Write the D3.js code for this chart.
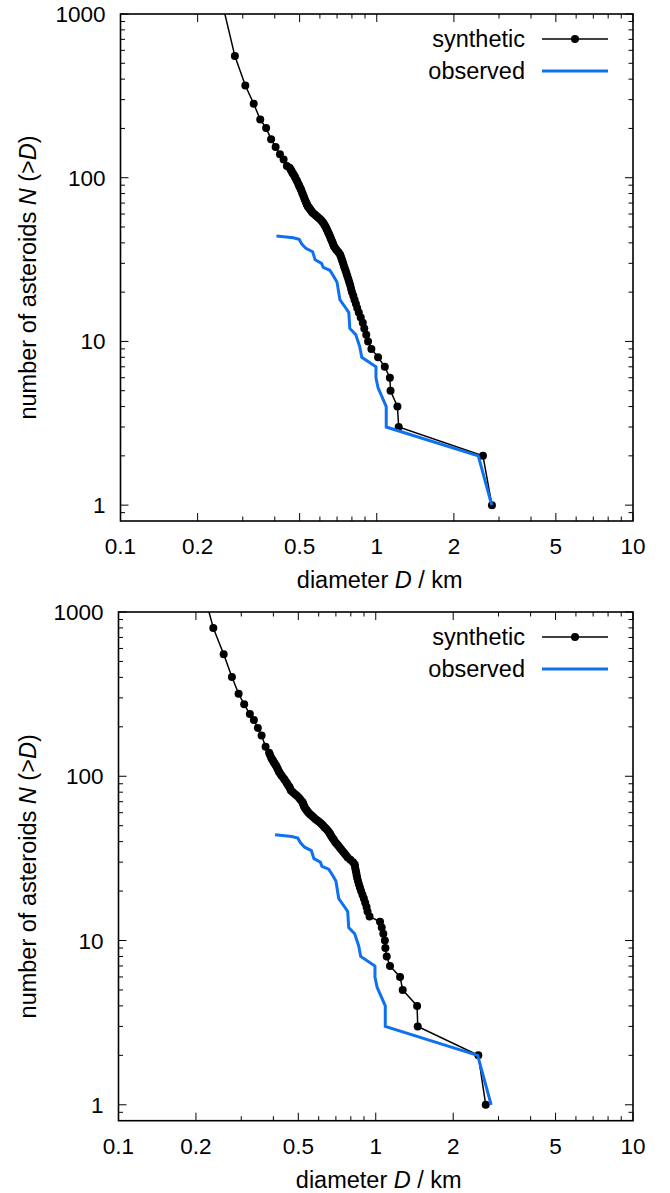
<!DOCTYPE html>
<html><head><meta charset="utf-8">
<script src="https://cdn.jsdelivr.net/npm/d3@7"></script>
<style>html,body{margin:0;padding:0;background:#fff;} svg{display:block;}</style>
</head><body>
<svg id="chart" width="670" height="1193"></svg>
<script>
// ---- axis ticks ----
const xTickValues = [0.1, 0.2, 0.5, 1, 2, 5, 10];
const xTickLabels = ["0.1", "0.2", "0.5", "1", "2", "5", "10"];
const xMinorTicks = [0.3, 0.4, 0.6, 0.7, 0.8, 0.9, 3, 4, 6, 7, 8, 9];
const yTickValues = [1, 10, 100, 1000];
const yTickLabels = ["1", "10", "100", "1000"];
const yMinorTicks = [0.9, 2, 3, 4, 5, 6, 7, 8, 9, 20, 30, 40, 50, 60, 70, 80, 90, 200, 300, 400, 500, 600, 700, 800, 900];
const seriesNames = ["synthetic", "observed"];

// ---- top panel: synthetic (cumulative N(>D) vs D) ----
const synthTopN = [1,2,3,4,5,6,7,8,9,10,11,12,13,14,15,16,17,18,19,20,21,22,23,24,25,26,27,28,29,30,31,32,33,34,35,36,37,38,39,40,41,42,43,44,45,46,47,48,49,50,51,52,53,54,55,56,57,58,59,60,61,62,63,64,65,66,67,68,69,70,72,74,76,78,80,82,84,86,88,90,92,95,97,100,102,105,107,110,112,115,118,129,139,154,172,201,227,283,366,553,1100];
const synthTopD = [2.815,2.597,1.218,1.204,1.132,1.125,1.075,1.012,0.953,0.925,0.910,0.894,0.882,0.866,0.851,0.839,0.829,0.819,0.810,0.801,0.794,0.788,0.781,0.775,0.768,0.762,0.756,0.750,0.744,0.739,0.734,0.729,0.724,0.719,0.709,0.698,0.690,0.681,0.677,0.673,0.668,0.664,0.660,0.656,0.652,0.648,0.644,0.640,0.636,0.632,0.627,0.623,0.618,0.612,0.607,0.600,0.592,0.585,0.577,0.570,0.562,0.558,0.554,0.550,0.546,0.542,0.538,0.536,0.533,0.531,0.527,0.523,0.520,0.517,0.513,0.510,0.507,0.504,0.500,0.497,0.494,0.489,0.486,0.481,0.478,0.473,0.469,0.465,0.462,0.457,0.446,0.433,0.419,0.403,0.387,0.370,0.351,0.331,0.307,0.2795,0.2518];

// ---- bottom panel: synthetic ----
const synthBotN = [1,2,3,4,5,6,7,8,9,10,11,12,13,14,15,16,17,18,19,20,21,22,23,24,25,26,27,28,29,30,31,32,33,34,35,36,37,38,39,40,41,42,43,44,45,46,47,48,49,50,51,52,53,54,55,56,57,58,59,60,61,62,63,64,65,66,67,68,69,70,72,74,76,78,80,82,84,86,88,90,92,95,97,100,102,105,107,110,112,115,117,120,122,125,127,130,135,139,151,177,197,220,239,274,318,402,553,799,1150];
const synthBotD = [2.676,2.504,1.456,1.448,1.273,1.243,1.136,1.103,1.090,1.085,1.070,1.055,1.039,0.946,0.929,0.921,0.910,0.899,0.888,0.877,0.868,0.860,0.853,0.847,0.843,0.839,0.835,0.831,0.8285,0.816,0.797,0.778,0.766,0.755,0.744,0.733,0.723,0.713,0.703,0.694,0.687,0.680,0.673,0.667,0.662,0.656,0.648,0.640,0.632,0.625,0.617,0.610,0.600,0.591,0.582,0.574,0.567,0.560,0.554,0.548,0.543,0.539,0.535,0.531,0.528,0.526,0.524,0.522,0.520,0.518,0.510,0.503,0.494,0.485,0.476,0.468,0.465,0.462,0.457,0.453,0.449,0.443,0.439,0.432,0.428,0.423,0.420,0.417,0.414,0.411,0.408,0.404,0.401,0.398,0.395,0.392,0.388,0.385,0.373,0.360,0.348,0.336,0.324,0.308,0.293,0.276,0.2564,0.2336,0.2195];

// ---- observed (same in both panels) ----
const obsN = [44,43,42,39.5,37,35.3,31.5,30,28.3,27.2,25.3,23,18,16,15,12,11,9.3,8,7,6,5.2,4,3,2,1];
const obsD = [0.406,0.472,0.498,0.509,0.529,0.562,0.575,0.609,0.618,0.656,0.676,0.700,0.718,0.757,0.778,0.785,0.828,0.858,0.874,0.993,0.993,1.012,1.089,1.089,2.49,2.81];

const FONT = "'Liberation Sans', Arial, Helvetica, sans-serif";
const FS_TICK = 22.5;
const FS_TITLE = 23.5;
const BLUE = "#0f70f0";

const svg = d3.select("#chart");

function drawPanel(id, box, synN, synD) {
  const x = d3.scaleLog().domain([0.1, 10]).range([box.left, box.right]);
  const y = d3.scaleLog().domain([0.8, 1000]).range([box.bottom, box.top]);
  const g = svg.append("g");

  g.append("clipPath").attr("id", "clip" + id)
    .append("rect").attr("x", box.left).attr("y", box.top)
    .attr("width", box.right - box.left).attr("height", box.bottom - box.top);

  // ticks (inward, mirrored)
  const tk = g.append("g").attr("stroke", "#000").attr("stroke-width", 1);
  const addX = (vals, len) => vals.forEach(v => {
    tk.append("line").attr("x1", x(v)).attr("x2", x(v)).attr("y1", box.bottom).attr("y2", box.bottom - len);
    tk.append("line").attr("x1", x(v)).attr("x2", x(v)).attr("y1", box.top).attr("y2", box.top + len);
  });
  const addY = (vals, len) => vals.forEach(v => {
    tk.append("line").attr("y1", y(v)).attr("y2", y(v)).attr("x1", box.left).attr("x2", box.left + len);
    tk.append("line").attr("y1", y(v)).attr("y2", y(v)).attr("x1", box.right).attr("x2", box.right - len);
  });
  addX(xTickValues, 8); addX(xMinorTicks, 4.5);
  addY(yTickValues, 8); addY(yMinorTicks, 4.5);

  // tick labels
  xTickValues.forEach((v, i) => {
    g.append("text").attr("x", x(v)).attr("y", box.bottom + 33)
      .attr("text-anchor", "middle").attr("font-family", FONT).attr("font-size", FS_TICK)
      .text(xTickLabels[i]);
  });
  yTickValues.forEach((v, i) => {
    g.append("text").attr("x", box.left - 15).attr("y", y(v) + 8)
      .attr("text-anchor", "end").attr("font-family", FONT).attr("font-size", FS_TICK)
      .text(yTickLabels[i]);
  });

  // axis titles
  const xt = g.append("text").attr("x", (box.left + box.right) / 2 + 3).attr("y", box.bottom + 67)
    .attr("text-anchor", "middle").attr("font-family", FONT).attr("font-size", FS_TITLE);
  xt.append("tspan").text("diameter ");
  xt.append("tspan").attr("font-style", "italic").text("D");
  xt.append("tspan").text(" / km");

  const cy = (box.top + box.bottom) / 2 + 10;
  const yt = g.append("text").attr("transform", `translate(36,${cy}) rotate(-90)`)
    .attr("text-anchor", "middle").attr("font-family", FONT).attr("font-size", FS_TITLE);
  yt.append("tspan").text("number of asteroids ");
  yt.append("tspan").attr("font-style", "italic").text("N");
  yt.append("tspan").text(" (>");
  yt.append("tspan").attr("font-style", "italic").text("D");
  yt.append("tspan").text(")");

  // data
  const plot = g.append("g").attr("clip-path", `url(#clip${id})`);
  const syn = synN.map((n, i) => [synD[i], n]);
  const obs = obsN.map((n, i) => [obsD[i], n]);
  const line = d3.line().x(d => x(d[0])).y(d => y(d[1]));

  plot.append("path").datum(syn).attr("d", line)
    .attr("fill", "none").attr("stroke", "#000").attr("stroke-width", 1.5);
  plot.selectAll(null).data(syn).enter().append("circle")
    .attr("cx", d => x(d[0])).attr("cy", d => y(d[1])).attr("r", 4).attr("fill", "#000");
  plot.append("path").datum(obs).attr("d", line)
    .attr("fill", "none").attr("stroke", BLUE).attr("stroke-width", 3)
    .attr("stroke-linejoin", "miter");

  // legend
  const ly1 = box.top + 25, ly2 = box.top + 57;
  const lx0 = 542, lx1 = 608, tx = 525;
  g.append("text").attr("x", tx).attr("y", ly1 + 8).attr("text-anchor", "end")
    .attr("font-family", FONT).attr("font-size", FS_TITLE).text(seriesNames[0]);
  g.append("line").attr("x1", lx0).attr("x2", lx1).attr("y1", ly1).attr("y2", ly1)
    .attr("stroke", "#000").attr("stroke-width", 1.5);
  g.append("circle").attr("cx", (lx0 + lx1) / 2).attr("cy", ly1).attr("r", 4).attr("fill", "#000");
  g.append("text").attr("x", tx).attr("y", ly2 + 8).attr("text-anchor", "end")
    .attr("font-family", FONT).attr("font-size", FS_TITLE).text(seriesNames[1]);
  g.append("line").attr("x1", lx0).attr("x2", lx1).attr("y1", ly2).attr("y2", ly2)
    .attr("stroke", BLUE).attr("stroke-width", 3);

  // frame
  g.append("rect").attr("x", box.left).attr("y", box.top)
    .attr("width", box.right - box.left).attr("height", box.bottom - box.top)
    .attr("fill", "none").attr("stroke", "#000").attr("stroke-width", 1.6);
}

drawPanel("top", {left: 120.5, right: 633, top: 14, bottom: 521}, synthTopN, synthTopD);
drawPanel("bot", {left: 118.5, right: 633, top: 612, bottom: 1120.7}, synthBotN, synthBotD);
</script>
</body></html>
